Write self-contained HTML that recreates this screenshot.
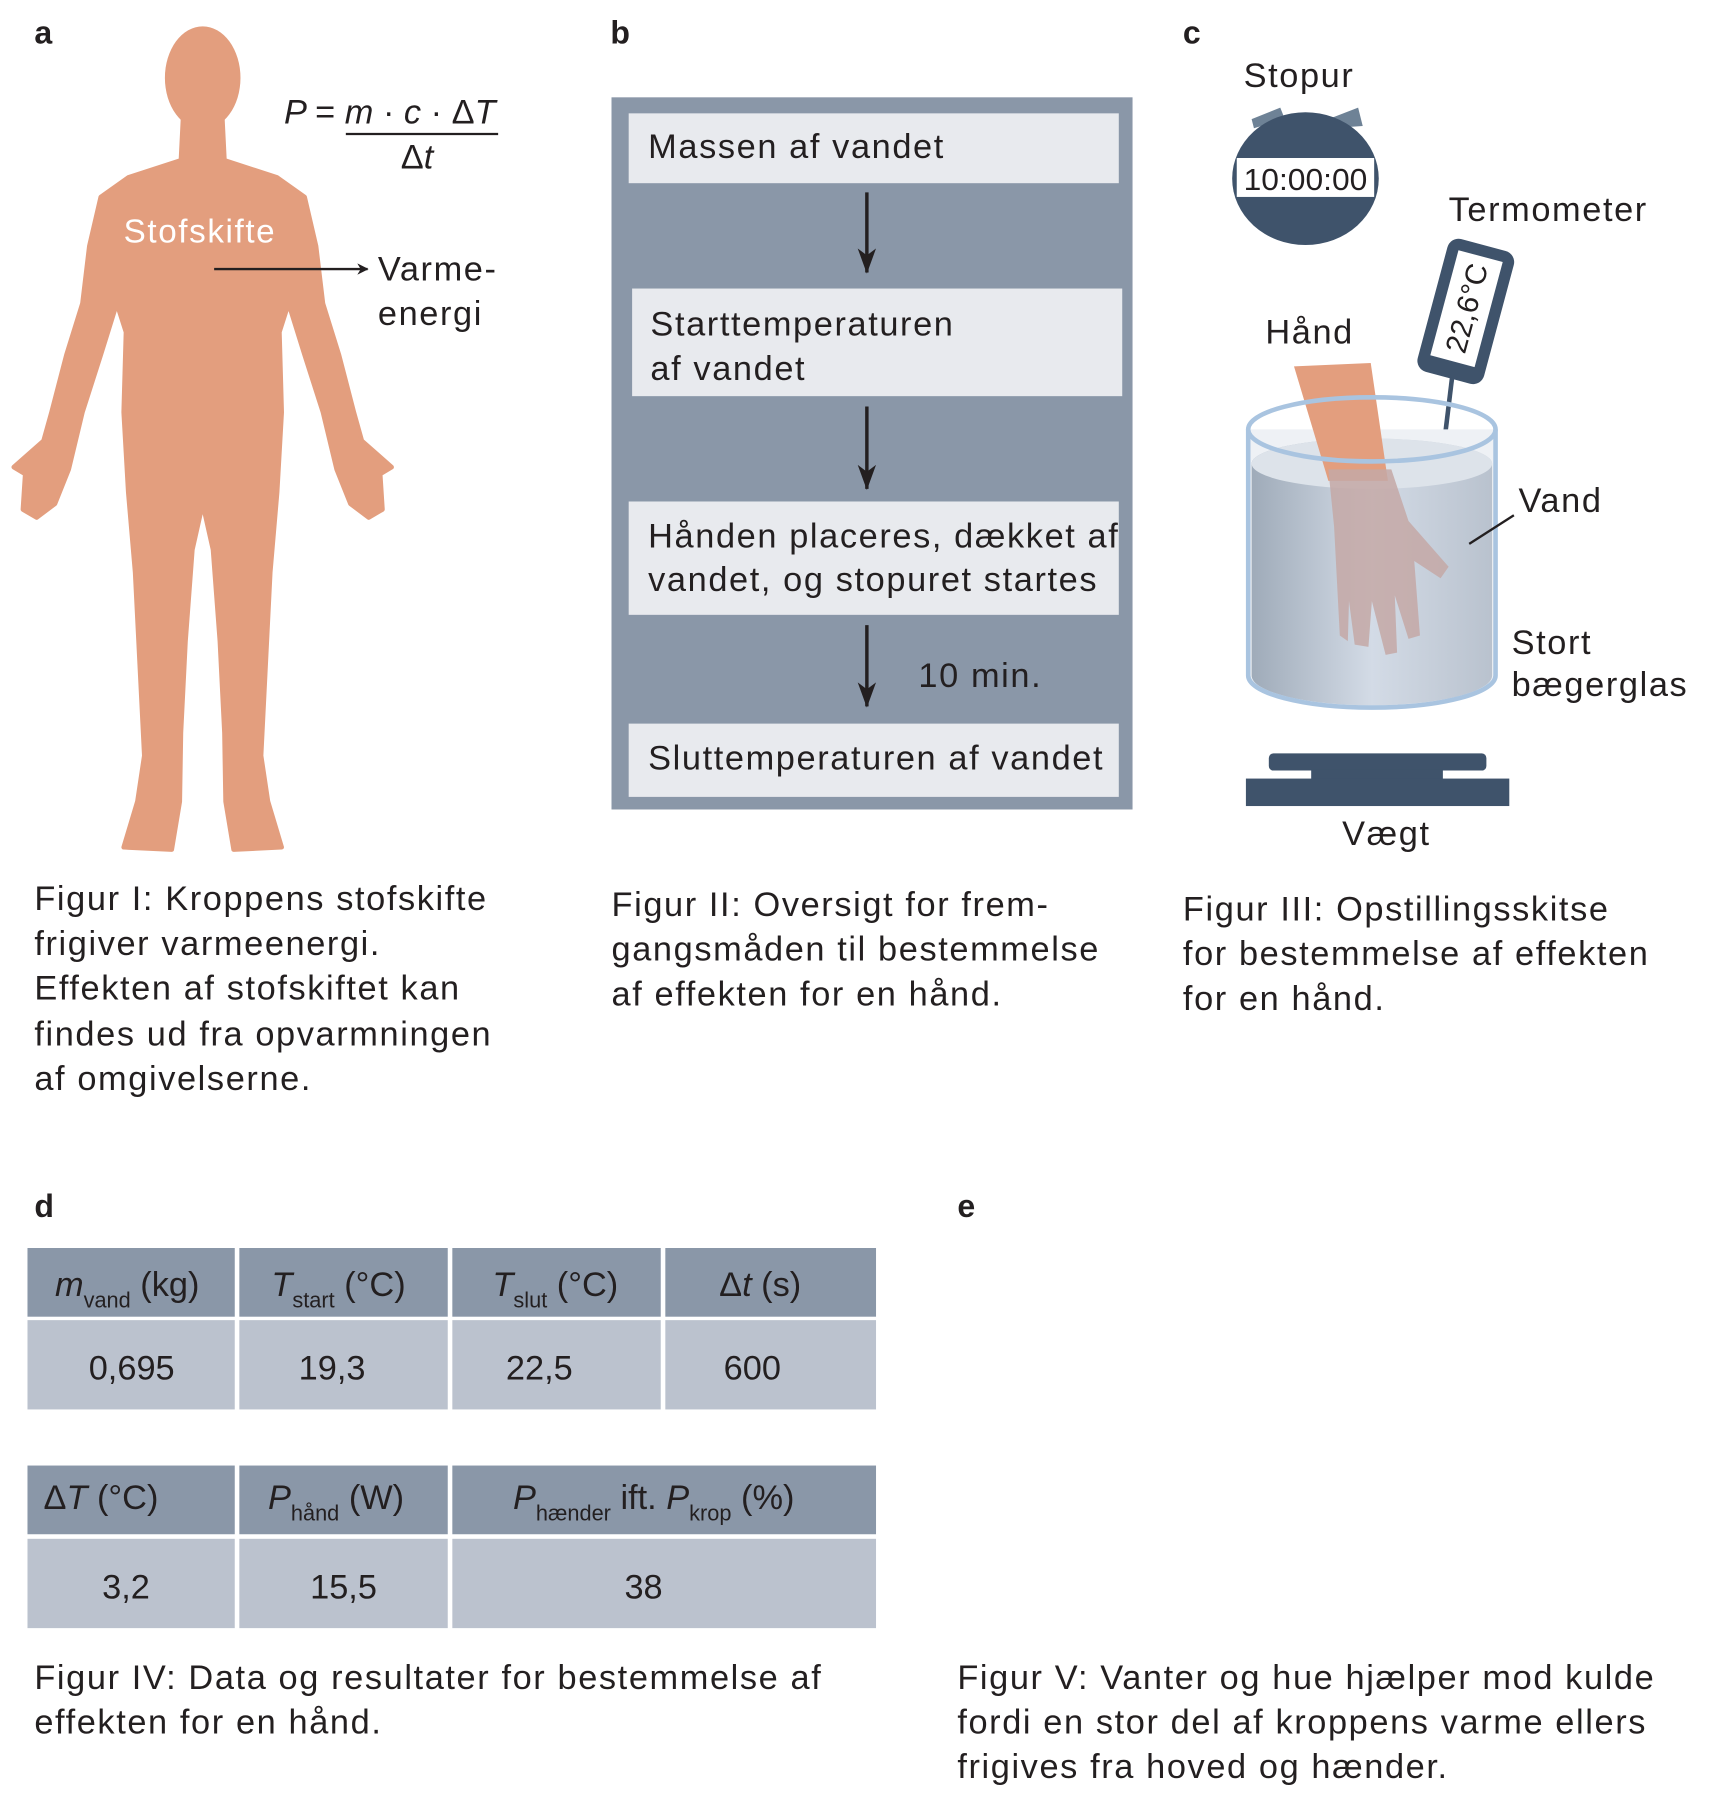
<!DOCTYPE html>
<html><head><meta charset="utf-8"><style>
html,body{margin:0;padding:0;background:#fff;}
svg{display:block;}
text{font-family:"Liberation Sans",sans-serif;fill:#231F20;}
.w{letter-spacing:1.4px;}
</style></head><body>
<svg width="1720" height="1793" viewBox="0 0 1502 1566" preserveAspectRatio="none" xmlns="http://www.w3.org/2000/svg">
<defs>
<linearGradient id="wg" x1="0" x2="1" y1="0" y2="0">
<stop offset="0" stop-color="#9FABB9"/><stop offset="0.5" stop-color="#D3DBE6"/><stop offset="1" stop-color="#B9C2CE"/>
</linearGradient>
<marker id="ah" markerWidth="10" markerHeight="10" refX="9" refY="5" orient="auto" markerUnits="userSpaceOnUse">
<path d="M0,0 L10,5 L0,10 L3,5 Z" fill="#231F20"/></marker>
<marker id="ah2" markerWidth="16" markerHeight="22" refX="8" refY="21" orient="0" markerUnits="userSpaceOnUse">
<path d="M0,0 L8,22 L16,0 L8,6 Z" fill="#231F20"/></marker>
</defs>

<!-- Panel a -->
<text x="30" y="38" font-size="28" font-weight="bold">a</text>
<ellipse cx="177" cy="68" rx="33" ry="45" fill="#E39E7E"/>
<polygon fill="#E39E7E" stroke="#E39E7E" stroke-width="4" stroke-linejoin="round" points="160,100 158,140 112,155 88,172 78,215 72,265 58,310 45,360 38,385 12,408 22,414 20,445 32,452 48,440 60,410 72,360 88,310 102,265 110,290 108,360 112,430 118,500 122,580 126,660 120,700 108,740 150,742 157,700 158,640 162,560 168,480 177,440 186,480 192,560 196,640 197,700 204,742 246,740 234,700 228,660 232,580 236,500 242,430 246,360 244,290 252,265 266,310 282,360 294,410 306,440 322,452 334,445 332,414 342,408 316,385 309,360 296,310 282,265 276,215 266,172 242,155 196,140 194,100"/>
<text x="248" y="108" font-size="30" font-style="italic">P <tspan font-style="normal">=</tspan> m <tspan font-style="normal">·</tspan> c <tspan font-style="normal">· Δ</tspan>T</text>
<line x1="302" y1="117" x2="435" y2="117" stroke="#231F20" stroke-width="2"/>
<text x="350" y="147" font-size="30">Δ<tspan font-style="italic">t</tspan></text>
<text class="w" x="108" y="212" font-size="29" style="fill:#fff">Stofskifte</text>
<line x1="187" y1="235" x2="321" y2="235" stroke="#231F20" stroke-width="2" marker-end="url(#ah)"/>
<text class="w" x="330" y="245" font-size="30">Varme-</text>
<text class="w" x="330" y="284" font-size="30">energi</text>
<g font-size="30" class="w">
<text x="30" y="795">Figur I: Kroppens stofskifte</text>
<text x="30" y="834">frigiver varmeenergi.</text>
<text x="30" y="873">Effekten af stofskiftet kan</text>
<text x="30" y="913">findes ud fra opvarmningen</text>
<text x="30" y="952">af omgivelserne.</text>
</g>

<!-- Panel b -->
<text x="533" y="38" font-size="28" font-weight="bold">b</text>
<rect x="534" y="85" width="455" height="622" fill="#8A97A8"/>
<rect x="549" y="99" width="428" height="61" fill="#E8EAEE"/>
<text class="w" x="566" y="138" font-size="30">Massen af vandet</text>
<line x1="757" y1="168" x2="757" y2="238" stroke="#231F20" stroke-width="3" marker-end="url(#ah2)"/>
<rect x="552" y="252" width="428" height="94" fill="#E8EAEE"/>
<text class="w" x="568" y="293" font-size="30">Starttemperaturen</text>
<text class="w" x="568" y="332" font-size="30">af vandet</text>
<line x1="757" y1="355" x2="757" y2="427" stroke="#231F20" stroke-width="3" marker-end="url(#ah2)"/>
<rect x="549" y="438" width="428" height="99" fill="#E8EAEE"/>
<text class="w" x="566" y="478" font-size="30">Hånden placeres, dækket af</text>
<text class="w" x="566" y="516" font-size="30">vandet, og stopuret startes</text>
<line x1="757" y1="546" x2="757" y2="617" stroke="#231F20" stroke-width="3" marker-end="url(#ah2)"/>
<text class="w" x="802" y="600" font-size="30">10 min.</text>
<rect x="549" y="632" width="428" height="64" fill="#E8EAEE"/>
<text class="w" x="566" y="672" font-size="30">Sluttemperaturen af vandet</text>
<g font-size="30" class="w">
<text x="534" y="800">Figur II: Oversigt for frem-</text>
<text x="534" y="839">gangsmåden til bestemmelse</text>
<text x="534" y="878">af effekten for en hånd.</text>
</g>

<!-- Panel c -->
<text x="1033" y="38" font-size="28" font-weight="bold">c</text>
<text class="w" x="1086" y="76" font-size="30">Stopur</text>
<polygon points="1093,104 1118,94 1122,104 1095,112" fill="#6E8296"/>
<polygon points="1160,104 1186,94 1190,110 1162,112" fill="#6E8296"/>
<ellipse cx="1140" cy="156" rx="64" ry="58" fill="#3F536B"/>
<rect x="1080" y="138" width="120" height="34" fill="#fff"/>
<text x="1140" y="166" font-size="27" text-anchor="middle" font-family="Liberation Mono" textLength="108" lengthAdjust="spacingAndGlyphs">10:00:00</text>
<text class="w" x="1265" y="193" font-size="30">Termometer</text>
<g transform="translate(1280,272) rotate(15)">
<rect x="-30" y="-60" width="60" height="120" rx="10" fill="#3F536B"/>
<rect x="-20" y="-50" width="40" height="95" fill="#fff"/>
<text x="0" y="0" font-size="26" text-anchor="middle" transform="rotate(-90) translate(3,9)" font-family="Liberation Mono">22,6°C</text>
</g>
<line x1="1268" y1="330" x2="1252" y2="462" stroke="#3F536B" stroke-width="4"/>
<text class="w" x="1105" y="300" font-size="30">Hånd</text>
<!-- beaker -->
<path d="M1090,375 L1090,590 A108,28 0 0 0 1306,590 L1306,375 Z" fill="#EEF1F5"/>
<path d="M1093,405 A105,22 0 0 1 1303,405 L1303,590 A105,26 0 0 1 1093,590 Z" fill="url(#wg)"/>
<ellipse cx="1198" cy="405" rx="105" ry="22" fill="#DDE3EA"/>
<polygon points="1130,320 1197,317 1212,420 1160,420" fill="#E39E7E"/>
<path d="M1160,410 L1215,410 L1230,455 L1265,495 L1258,505 L1235,490 L1240,555 L1230,558 L1218,520 L1220,570 L1210,572 L1198,525 L1195,565 L1183,563 L1178,525 L1177,560 L1170,555 L1165,460 Z" fill="#C4A8A6" opacity="0.85"/>
<path d="M1090,375 L1090,590 A108,28 0 0 0 1306,590 L1306,375" fill="none" stroke="#A9C4E0" stroke-width="4"/>
<ellipse cx="1198" cy="375" rx="108" ry="28" fill="none" stroke="#A9C4E0" stroke-width="4"/>
<line x1="1283" y1="475" x2="1322" y2="450" stroke="#231F20" stroke-width="2"/>
<text class="w" x="1326" y="447" font-size="30">Vand</text>
<text class="w" x="1320" y="571" font-size="30">Stort</text>
<text class="w" x="1320" y="608" font-size="30">bægerglas</text>
<rect x="1108" y="658" width="190" height="15" rx="4" fill="#3F536B"/>
<rect x="1145" y="672" width="115" height="10" fill="#3F536B"/>
<rect x="1088" y="680" width="230" height="24" fill="#3F536B"/>
<text class="w" x="1172" y="738" font-size="30">Vægt</text>
<g font-size="30" class="w">
<text x="1033" y="804">Figur III: Opstillingsskitse</text>
<text x="1033" y="843">for bestemmelse af effekten</text>
<text x="1033" y="882">for en hånd.</text>
</g>

<!-- Panel d -->
<text x="30" y="1063" font-size="28" font-weight="bold">d</text>
<g fill="#8A97A8">
<rect x="24" y="1090" width="181" height="60"/><rect x="209" y="1090" width="182" height="60"/>
<rect x="395" y="1090" width="182" height="60"/><rect x="581" y="1090" width="184" height="60"/>
<rect x="24" y="1280" width="181" height="60"/><rect x="209" y="1280" width="182" height="60"/>
<rect x="395" y="1280" width="370" height="60"/>
</g>
<g fill="#BBC2CE">
<rect x="24" y="1153" width="181" height="78"/><rect x="209" y="1153" width="182" height="78"/>
<rect x="395" y="1153" width="182" height="78"/><rect x="581" y="1153" width="184" height="78"/>
<rect x="24" y="1344" width="181" height="78"/><rect x="209" y="1344" width="182" height="78"/>
<rect x="395" y="1344" width="370" height="78"/>
</g>
<g font-size="30">
<text x="48" y="1132"><tspan font-style="italic">m</tspan><tspan font-size="19" dy="10">vand</tspan><tspan dy="-10"> (kg)</tspan></text>
<text x="237" y="1132"><tspan font-style="italic">T</tspan><tspan font-size="19" dy="10">start</tspan><tspan dy="-10"> (°C)</tspan></text>
<text x="430" y="1132"><tspan font-style="italic">T</tspan><tspan font-size="19" dy="10">slut</tspan><tspan dy="-10"> (°C)</tspan></text>
<text x="628" y="1132">Δ<tspan font-style="italic">t</tspan> (s)</text>
<text x="115" y="1205" text-anchor="middle">0,695</text>
<text x="290" y="1205" text-anchor="middle">19,3</text>
<text x="471" y="1205" text-anchor="middle">22,5</text>
<text x="657" y="1205" text-anchor="middle">600</text>
<text x="38" y="1318">Δ<tspan font-style="italic">T</tspan> (°C)</text>
<text x="234" y="1318"><tspan font-style="italic">P</tspan><tspan font-size="19" dy="10">hånd</tspan><tspan dy="-10"> (W)</tspan></text>
<text x="448" y="1318"><tspan font-style="italic">P</tspan><tspan font-size="19" dy="10">hænder</tspan><tspan dy="-10"> ift. </tspan><tspan font-style="italic">P</tspan><tspan font-size="19" dy="10">krop</tspan><tspan dy="-10"> (%)</tspan></text>
<text x="110" y="1396" text-anchor="middle">3,2</text>
<text x="300" y="1396" text-anchor="middle">15,5</text>
<text x="562" y="1396" text-anchor="middle">38</text>
</g>
<g font-size="30" class="w">
<text x="30" y="1475">Figur IV: Data og resultater for bestemmelse af</text>
<text x="30" y="1514">effekten for en hånd.</text>
</g>

<!-- Panel e -->
<text x="836" y="1063" font-size="28" font-weight="bold">e</text>
<g font-size="30" class="w">
<text x="836" y="1475">Figur V: Vanter og hue hjælper mod kulde</text>
<text x="836" y="1514">fordi en stor del af kroppens varme ellers</text>
<text x="836" y="1553">frigives fra hoved og hænder.</text>
</g>
</svg>
</body></html>
